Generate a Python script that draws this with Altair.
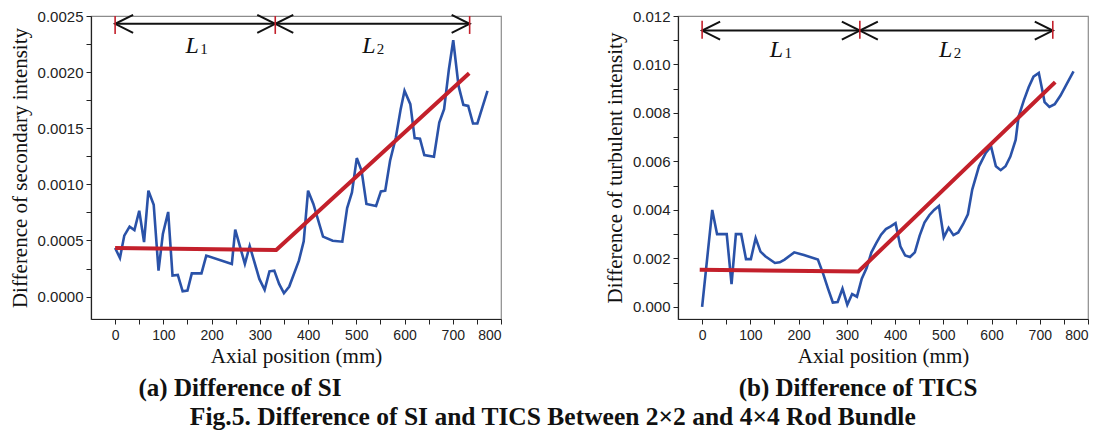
import altair as alt
import pandas as pd

# ---------------- data ----------------
# (a) Difference of secondary intensity (SI)
si_x = [0, 10, 19, 30, 40, 50, 60, 69, 80, 90, 99, 110, 119, 130, 140, 150, 159, 179, 189,
        242, 249, 269, 279, 299, 310, 320, 330, 340, 350, 361, 381, 391, 400, 411, 431, 451,
        471, 481, 491, 501, 511, 521, 541, 551, 560, 570, 582, 592, 600, 612, 621, 632, 641,
        661, 672, 682, 692, 701, 712, 722, 732, 742, 751, 772]
si_y = [0.000433, 0.000344, 0.000543, 0.000623, 0.000593, 0.000765, 0.000486, 0.000943,
        0.000818, 0.000231, 0.000558, 0.000754, 0.000187, 0.000193, 0.000047, 0.000053,
        0.000207, 0.000207, 0.000365, 0.000291, 0.000596, 0.000291, 0.000451, 0.000157,
        0.000060, 0.000225, 0.000231, 0.000113, 0.000030, 0.000089, 0.000320, 0.000492,
        0.000943, 0.000825, 0.000534, 0.000498, 0.000489, 0.000789, 0.000928, 0.001234,
        0.001121, 0.000825, 0.000807, 0.000937, 0.000943, 0.001210, 0.001417, 0.001670,
        0.001833, 0.001714, 0.001412, 0.001406, 0.001260, 0.001246, 0.001551, 0.001670,
        0.002026, 0.002284, 0.001877, 0.001708, 0.001699, 0.001542, 0.001542, 0.001833]
si_fit_x = [0, 334, 734]
si_fit_y = [0.000433, 0.000415, 0.001990]

# (b) Difference of turbulent intensity (TICS)
tics_x = [0, 21, 31, 51, 61, 70, 81, 91, 101, 111, 121, 131, 151, 161, 171, 191, 211, 240,
          251, 261, 271, 281, 291, 301, 311, 321, 331, 341, 351, 361, 371, 381, 391, 401,
          411, 421, 431, 441, 451, 461, 471, 481, 491, 501, 511, 521, 531, 541, 551, 560,
          574, 588, 599, 609, 619, 629, 639, 650, 656, 667, 677, 687, 698, 704, 710, 720,
          731, 743, 756, 770]
tics_y = [0.00000, 0.00400, 0.00300, 0.00300, 0.00094, 0.00300, 0.00300, 0.00197, 0.00197,
          0.00284, 0.00228, 0.00209, 0.00181, 0.00184, 0.00195, 0.00225, 0.00214, 0.00195,
          0.00136, 0.00075, 0.00018, 0.00020, 0.00075, 0.00009, 0.00053, 0.00042, 0.00116,
          0.00160, 0.00225, 0.00263, 0.00298, 0.00321, 0.00332, 0.00345, 0.00250, 0.00212,
          0.00206, 0.00225, 0.00294, 0.00348, 0.00378, 0.00400, 0.00416, 0.00287, 0.00326,
          0.00296, 0.00307, 0.00341, 0.00382, 0.00484, 0.00580, 0.00635, 0.00662, 0.00580,
          0.00564, 0.00580, 0.00620, 0.00689, 0.00784, 0.00852, 0.00906, 0.00950, 0.00965,
          0.00906, 0.00845, 0.00825, 0.00836, 0.00872, 0.00920, 0.00972]
tics_fit_x = [-5, 324, 732]
tics_fit_y = [0.00153, 0.00146, 0.00927]

# region annotations (L1 / L2)
si_marks_x = [0, 332, 735]
si_arrow_y = 0.00243
si_tick_lo, si_tick_hi = 0.00234, 0.00250
si_label_x = [160, 526]
si_label_y = 0.00217

tics_marks_x = [0, 327, 727]
tics_arrow_y = 0.0114
tics_tick_lo, tics_tick_hi = 0.01106, 0.0118
tics_label_x = [154, 505]
tics_label_y = 0.01032

label_main = ["L", "L"]
label_sub = ["1", "2"]

x_domain = [-50, 800]
x_ticks = list(range(0, 801, 50))

si_y_domain = [-0.0002, 0.0025]
si_y_ticks = [i * 0.00025 for i in range(0, 11)]
tics_y_domain = [-0.0005, 0.012]
tics_y_ticks = [i * 0.001 for i in range(0, 13)]

BLUE = "#2a52a8"
RED = "#c3202b"
SERIF = "Liberation Serif"
SANS = "Liberation Sans"

RIGHT_HEAD = "M-1,-0.5L0,0L-1,0.5"
LEFT_HEAD = "M1,-0.5L0,0L1,0.5"


def panel(xs, ys, fx, fy, mx, arrow_y, t_lo, t_hi, lx, ly, ydom, yticks, ystep, yfmt,
          ytitle, caption, cap_dx):
    xscale = alt.Scale(domain=x_domain, nice=False, zero=False)
    yscale = alt.Scale(domain=ydom, nice=False, zero=False)
    xaxis = alt.Axis(values=x_ticks, title="Axial position (mm)",
                     labelExpr="datum.value % 100 === 0 ? datum.label : ''",
                     grid=False, tickSize=5, labelPadding=4, labelFont=SANS,
                     labelFontSize=14, titleFont=SERIF, titleFontSize=21,
                     titleFontWeight="normal", titlePadding=3)
    yaxis = alt.Axis(values=yticks, title=ytitle, format=yfmt,
                     labelExpr=f"abs(datum.value/{ystep} - round(datum.value/{ystep})) < 1e-6 ? format(datum.value, '{yfmt}') : ''",
                     grid=False, tickSize=5, labelPadding=3, labelFont=SANS,
                     labelFontSize=15, titleFont=SERIF, titleFontSize=21,
                     titleFontWeight="normal", titlePadding=7)

    def X(f):
        return alt.X(f, type="quantitative", scale=xscale, axis=xaxis)

    def Y(f):
        return alt.Y(f, type="quantitative", scale=yscale, axis=yaxis)

    curve = alt.Chart(pd.DataFrame({"x": xs, "y": ys})).mark_line(
        color=BLUE, strokeWidth=2.6).encode(x=X("x"), y=Y("y"))
    fit = alt.Chart(pd.DataFrame({"x": fx, "y": fy})).mark_line(
        color=RED, strokeWidth=4).encode(x=X("x"), y=Y("y"))

    seg = pd.DataFrame({"x": mx[:-1], "x2": mx[1:], "y": [arrow_y] * (len(mx) - 1)})
    arrows = alt.Chart(seg).mark_rule(color="#111", strokeWidth=2).encode(
        x=X("x"), x2="x2", y=Y("y"))
    lheads = alt.Chart(pd.DataFrame({"x": mx[:-1], "y": [arrow_y] * (len(mx) - 1)})).mark_point(
        shape=LEFT_HEAD, size=1296, filled=False, color="#111", strokeWidth=2, opacity=1
    ).encode(x=X("x"), y=Y("y"))
    rheads = alt.Chart(pd.DataFrame({"x": mx[1:], "y": [arrow_y] * (len(mx) - 1)})).mark_point(
        shape=RIGHT_HEAD, size=1296, filled=False, color="#111", strokeWidth=2, opacity=1
    ).encode(x=X("x"), y=Y("y"))
    ticks = alt.Chart(pd.DataFrame({"x": mx, "y": [t_lo] * len(mx), "y2": [t_hi] * len(mx)})).mark_rule(
        color=RED, strokeWidth=1.6).encode(x=X("x"), y=Y("y"), y2="y2")

    lab = pd.DataFrame({"x": lx, "y": [ly] * len(lx), "m": label_main, "s": label_sub})
    main_txt = alt.Chart(lab).mark_text(font=SERIF, fontStyle="italic", fontSize=24,
                                        baseline="alphabetic", align="center", color="#111").encode(
        x=X("x"), y=Y("y"), text="m:N")
    sub_txt = alt.Chart(lab).mark_text(font=SERIF, fontSize=15, baseline="alphabetic",
                                       align="left", dx=8, dy=1, color="#111").encode(
        x=X("x"), y=Y("y"), text="s:N")

    return alt.layer(curve, fit, arrows, lheads, rheads, ticks, main_txt, sub_txt).properties(
        width=410, height=303,
        title=alt.TitleParams(text=caption, orient="bottom", anchor="middle", frame="group",
                              dx=cap_dx, offset=10, font=SERIF, fontSize=25,
                              fontWeight="bold", color="#111"))


left = panel(si_x, si_y, si_fit_x, si_fit_y, si_marks_x, si_arrow_y, si_tick_lo, si_tick_hi,
             si_label_x, si_label_y, si_y_domain, si_y_ticks, 0.0005, ".4f",
             "Difference of secondary intensity", "(a) Difference of SI", -56)
right = panel(tics_x, tics_y, tics_fit_x, tics_fit_y, tics_marks_x, tics_arrow_y, tics_tick_lo,
              tics_tick_hi, tics_label_x, tics_label_y, tics_y_domain, tics_y_ticks, 0.002, ".3f",
              "Difference of turbulent intensity", "(b) Difference of TICS", -25)

chart = alt.hconcat(left, right, spacing=100).properties(
    padding={"left": 0, "top": 0, "right": 0, "bottom": 0},
    title=alt.TitleParams(text="Fig.5. Difference of SI and TICS Between 2×2 and 4×4 Rod Bundle",
                          orient="bottom", anchor="middle", offset=3, dx=4, font=SERIF, fontSize=25.5,
                          fontWeight="bold", color="#111"),
).configure_view(stroke="#8c8c8c", strokeWidth=1.2).configure_axis(
    domainColor="#222", tickColor="#222", labelColor="#222", titleColor="#111", domainWidth=1.2
)

chart.save("out.html", embed_options={"renderer": "svg", "actions": False})
